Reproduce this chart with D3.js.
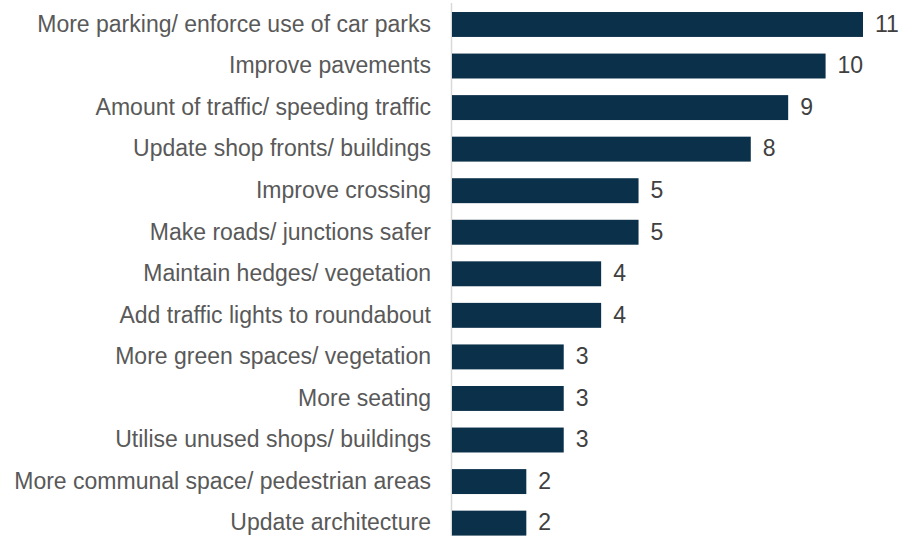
<!DOCTYPE html>
<html>
<head>
<meta charset="utf-8">
<script src="https://cdn.jsdelivr.net/npm/d3@7"></script>
<style>
  html, body { margin: 0; padding: 0; background: #fff; }
  svg { display: block; }
  text { font-family: "Liberation Sans", Arial, sans-serif; }
</style>
</head>
<body>
<svg id="chart" width="903" height="536"></svg>
<script>
// Suggested improvements, number of mentions
const categories = [
  "More parking/ enforce use of car parks",
  "Improve pavements",
  "Amount of traffic/ speeding traffic",
  "Update shop fronts/ buildings",
  "Improve crossing",
  "Make roads/ junctions safer",
  "Maintain hedges/ vegetation",
  "Add traffic lights to roundabout",
  "More green spaces/ vegetation",
  "More seating",
  "Utilise unused shops/ buildings",
  "More communal space/ pedestrian areas",
  "Update architecture"
];
const counts = [11, 10, 9, 8, 5, 5, 4, 4, 3, 3, 3, 2, 2];

const svg = d3.select("#chart");
const x0 = 451.5;

const x = d3.scaleLinear().domain([0, 11]).range([x0, 863]);
const y = d3.scaleBand().domain(categories).range([3.7, 543.9]).paddingInner(0.4).paddingOuter(0.2);

// category axis line
svg.append("line")
  .attr("x1", x0).attr("x2", x0)
  .attr("y1", 3).attr("y2", 536)
  .attr("stroke", "#d9d9d9").attr("stroke-width", 1.5);

svg.selectAll("rect.bar")
  .data(categories)
  .join("rect")
  .attr("class", "bar")
  .attr("x", x(0) + 0.5)
  .attr("y", d => y(d))
  .attr("width", (d, i) => x(counts[i]) - x(0) - 0.5)
  .attr("height", y.bandwidth())
  .attr("fill", "#0b3049");

svg.selectAll("text.cat")
  .data(categories)
  .join("text")
  .attr("class", "cat")
  .attr("x", 431)
  .attr("y", d => y(d) + y.bandwidth() / 2)
  .attr("dy", "0.32em")
  .attr("text-anchor", "end")
  .attr("font-size", 23)
  .attr("fill", "#595959")
  .text(d => d);

svg.selectAll("text.val")
  .data(categories)
  .join("text")
  .attr("class", "val")
  .attr("x", (d, i) => x(counts[i]) + 12)
  .attr("y", d => y(d) + y.bandwidth() / 2)
  .attr("dy", "0.32em")
  .attr("font-size", 23)
  .attr("fill", "#404040")
  .text((d, i) => counts[i]);
</script>
</body>
</html>
